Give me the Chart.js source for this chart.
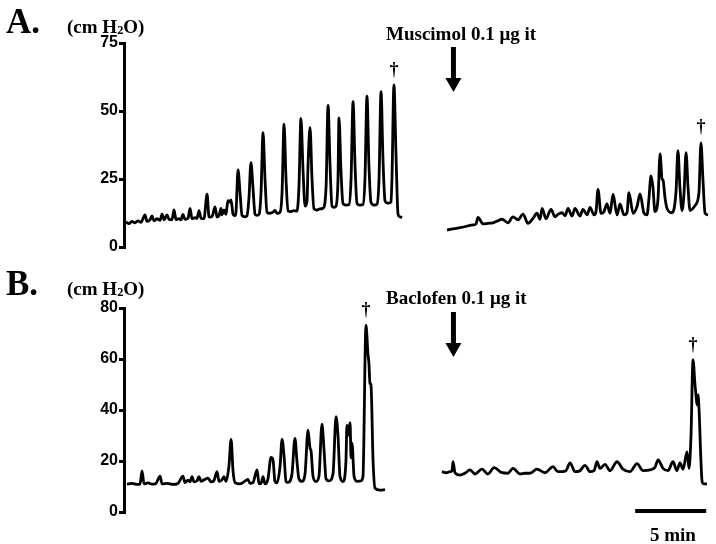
<!DOCTYPE html>
<html>
<head>
<meta charset="utf-8">
<script src="https://cdn.jsdelivr.net/npm/chart.js@4.4.1/dist/chart.umd.min.js"></script>
<style>
  body { margin: 0; background: #fff; }
  #wrap { position: relative; width: 716px; height: 544px; overflow: hidden; }
  canvas { position: absolute; left: 0; }
  .lbl { position: absolute; font-family: "Liberation Serif", "Times New Roman", serif; font-weight: bold; color: #000; line-height: 1; white-space: nowrap; }
  .panel { font-size: 35px; }
  .unit { font-size: 19px; }
  .drug { font-size: 19px; }
  sub { font-size: 0.65em; vertical-align: -0.05em; }
</style>
</head>
<body>
<div id="wrap">
  <canvas id="chartA" width="716" height="262" style="top:0"></canvas>
  <canvas id="chartB" width="716" height="282" style="top:262px"></canvas>
  <div class="lbl panel" style="left:6px;top:4px">A.</div>
  <div class="lbl unit" style="left:67px;top:17px">(cm H<sub>2</sub>O)</div>
  <div class="lbl drug" style="left:386px;top:24px">Muscimol 0.1 μg it</div>
  <div class="lbl panel" style="left:6px;top:266px">B.</div>
  <div class="lbl unit" style="left:67px;top:279px">(cm H<sub>2</sub>O)</div>
  <div class="lbl drug" style="left:386px;top:288px">Baclofen 0.1 μg it</div>
  <div class="lbl drug" style="left:650px;top:525px">5 min</div>
</div>
<script>
// time in minutes, pressure in cm H2O
// A: before muscimol
var timeA1 = [0.14, 0.35, 0.56, 0.77, 0.99, 1.20, 1.48, 1.62, 1.83, 1.97, 2.11, 2.32, 2.54, 2.68, 2.82, 3.03, 3.17, 3.38, 3.52, 3.66,
  3.87, 4.01, 4.15, 4.30, 4.51, 4.65, 4.79, 5.00, 5.14, 5.28, 5.42, 5.63, 5.85, 5.99, 6.20, 6.41, 6.55, 6.69, 6.83, 6.90,
  7.04, 7.18, 7.32, 7.46, 7.54, 7.68, 7.82, 7.89, 8.03, 8.17, 8.31, 8.52, 8.66, 8.80, 8.94, 9.08, 9.23, 9.37, 9.51, 9.65,
  9.79, 9.93, 10.07, 10.28, 10.49, 10.63, 10.77, 10.99, 11.13, 11.27, 11.41, 11.55, 11.76, 11.97, 12.18, 12.32, 12.46, 12.61, 12.75, 12.89,
  12.96, 13.10, 13.24, 13.38, 13.59, 13.80, 14.01, 14.23, 14.37, 14.51, 14.65, 14.79, 14.93, 15.07, 15.14, 15.28, 15.42, 15.63, 15.85, 15.99,
  16.13, 16.27, 16.41, 16.62, 16.83, 16.97, 17.11, 17.25, 17.39, 17.61, 17.82, 17.96, 18.10, 18.24, 18.38, 18.59, 18.80, 18.87, 19.01, 19.15,
  19.30, 19.44, 19.58];
var presA1 = [9.2, 8.6, 9.4, 8.9, 9.6, 9.1, 11.8, 9.4, 10.0, 11.4, 9.6, 10.4, 9.8, 12.1, 10.0, 11.8, 10.2, 10.0, 13.6, 10.1,
  10.4, 10.0, 12.0, 10.2, 10.6, 14.2, 10.4, 10.8, 10.5, 13.4, 10.6, 10.4, 19.4, 11.0, 11.2, 14.7, 11.0, 11.5, 14.2, 11.8,
  13.6, 12.0, 17.0, 16.5, 17.3, 12.0, 11.5, 13.0, 28.3, 20.0, 11.6, 11.1, 11.5, 18.0, 31.0, 22.0, 12.0, 11.6, 12.0, 20.0,
  42.0, 25.0, 12.8, 12.4, 12.8, 13.5, 12.4, 12.8, 20.0, 45.2, 25.0, 13.2, 13.0, 13.4, 13.2, 22.0, 47.3, 28.0, 15.0, 17.0,
  30.0, 44.0, 25.0, 14.0, 13.6, 14.0, 14.2, 22.0, 52.1, 30.0, 15.0, 14.6, 15.0, 25.0, 47.5, 28.0, 16.0, 15.4, 15.6, 25.0,
  53.4, 30.0, 16.0, 15.4, 15.6, 25.0, 55.5, 30.0, 16.5, 15.4, 15.8, 25.0, 57.1, 32.0, 17.0, 16.1, 16.5, 25.0, 59.6, 35.0,
  12.0, 11.1, 10.8];
// A: after muscimol
var timeA2 = [22.75, 23.66, 24.58, 24.79, 24.93, 25.28, 25.63, 25.99, 26.27, 26.62, 27.04, 27.39, 27.75, 28.10, 28.45, 28.80, 29.08, 29.30, 29.44, 29.72,
  30.07, 30.35, 30.56, 30.85, 31.06, 31.27, 31.55, 31.76, 32.11, 32.32, 32.61, 32.82, 33.10, 33.24, 33.38, 33.59, 33.80, 34.01, 34.23, 34.44,
  34.72, 34.93, 35.21, 35.42, 35.56, 35.85, 36.13, 36.34, 36.62, 36.83, 36.97, 37.11, 37.25, 37.39, 37.61, 37.75, 37.89, 37.96, 38.10, 38.24,
  38.59, 38.87, 39.01, 39.15, 39.30, 39.44, 39.58, 39.72, 39.86, 40.21, 40.49, 40.63, 40.77, 40.92, 41.13];
var presA2 = [6.25, 7.1, 8.1, 8.5, 10.9, 8.5, 8.7, 8.9, 9.5, 10.2, 8.9, 11.1, 10.0, 12.1, 8.7, 10.5, 12.4, 10.2, 14.2, 10.4,
  13.8, 11.1, 12.0, 12.6, 11.5, 14.2, 11.4, 14.2, 11.4, 13.8, 11.8, 14.6, 11.8, 13.0, 21.2, 12.4, 13.0, 15.8, 12.4, 19.4,
  11.8, 15.8, 11.8, 12.5, 20.0, 12.4, 14.9, 19.5, 12.4, 11.8, 18.0, 26.1, 22.0, 13.0, 18.0, 34.2, 25.0, 24.6, 18.0, 14.2,
  12.6, 20.0, 35.4, 22.0, 13.4, 20.0, 34.7, 22.0, 13.4, 15.2, 20.0, 38.3, 25.0, 12.4, 11.8];
// B: before baclofen
var timeB1 = [0.21, 0.56, 0.92, 1.13, 1.27, 1.41, 1.69, 1.97, 2.25, 2.54, 2.68, 3.03, 3.45, 3.80, 4.15, 4.30, 4.51, 4.65, 4.79, 4.93,
  5.14, 5.28, 5.42, 5.63, 5.92, 6.13, 6.34, 6.55, 6.69, 6.90, 7.04, 7.18, 7.39, 7.54, 7.68, 7.82, 8.17, 8.45, 8.73, 8.87,
  9.08, 9.37, 9.51, 9.65, 9.79, 9.93, 10.14, 10.35, 10.49, 10.63, 10.77, 10.99, 11.13, 11.27, 11.41, 11.55, 11.83, 12.04, 12.18, 12.32,
  12.54, 12.75, 12.96, 13.10, 13.17, 13.31, 13.52, 13.73, 13.94, 14.08, 14.23, 14.44, 14.72, 14.93, 15.07, 15.21, 15.42, 15.63, 15.70, 15.77,
  15.92, 15.99, 16.06, 16.20, 16.41, 16.69, 16.83, 17.04, 17.18, 17.25, 17.32, 17.39, 17.54, 17.68, 18.03, 18.38];
var presB1 = [10.9, 11.2, 10.8, 11.0, 16.1, 11.0, 11.4, 10.9, 11.2, 14.1, 11.0, 11.2, 10.8, 11.2, 14.1, 11.5, 12.5, 11.8, 13.9, 11.8,
  12.2, 13.9, 12.0, 12.6, 13.3, 11.8, 12.4, 15.8, 12.0, 12.6, 13.9, 12.0, 18.0, 28.5, 16.0, 11.5, 11.0, 11.8, 12.8, 11.2,
  11.5, 16.5, 11.0, 11.2, 13.9, 11.0, 13.0, 21.4, 20.5, 12.0, 11.4, 18.0, 28.5, 22.0, 12.0, 11.6, 15.0, 28.9, 20.0, 13.0,
  12.0, 15.0, 32.1, 25.0, 24.0, 14.0, 11.9, 14.0, 34.5, 25.0, 13.0, 12.2, 15.0, 37.4, 30.0, 14.0, 11.9, 20.0, 34.1, 30.0,
  35.0, 21.2, 27.0, 14.0, 12.0, 12.2, 14.0, 73.3, 62.0, 58.3, 50.4, 50.0, 20.0, 9.3, 8.6, 8.8];
// B: after baclofen
var timeB2 = [22.39, 22.68, 22.96, 23.10, 23.17, 23.31, 23.66, 24.01, 24.37, 24.72, 25.21, 25.63, 26.06, 26.62, 27.04, 27.39, 27.89, 28.24, 28.59, 29.08,
  29.65, 30.21, 30.56, 30.85, 31.13, 31.41, 31.76, 32.11, 32.46, 32.82, 33.10, 33.31, 33.52, 33.87, 34.23, 34.72, 35.14, 35.63, 36.13, 36.55,
  37.04, 37.39, 37.61, 37.96, 38.31, 38.66, 38.94, 39.15, 39.37, 39.65, 39.79, 39.93, 40.07, 40.21, 40.28, 40.35, 40.42, 40.49, 40.63, 40.70,
  40.77, 41.06];
var presB2 = [15.8, 15.4, 15.8, 16.2, 19.7, 15.4, 14.5, 15.2, 16.5, 14.9, 16.8, 14.9, 17.4, 15.4, 15.2, 17.1, 14.9, 15.2, 15.2, 16.8,
  15.4, 17.8, 15.8, 15.8, 16.2, 19.3, 15.8, 16.2, 18.3, 15.8, 16.2, 19.7, 17.1, 18.7, 16.2, 19.7, 16.8, 15.8, 19.0, 16.2,
  16.5, 17.5, 20.4, 17.1, 16.2, 19.7, 16.2, 19.3, 16.8, 23.6, 17.1, 30.0, 59.6, 50.0, 45.9, 42.0, 45.9, 41.0, 20.0, 12.5,
  11.2, 11.0];

var injectionTime = 23.2;      // drug given (arrow)
var scaleBarMin = [36.0, 41.0]; // 5 min bar
var ticksA = [0, 25, 50, 75];
var ticksB = [0, 20, 40, 60, 80];

function pts(t, p) {
  return t.map(function (v, i) { return { x: v, y: p[i] }; });
}

var marksPlugin = {
  id: 'marks',
  afterDatasetsDraw: function (chart, args, opts) {
    var ctx = chart.ctx, area = chart.chartArea, x = chart.scales.x, y = chart.scales.y;
    ctx.save();
    ctx.fillStyle = '#000';
    ctx.strokeStyle = '#000';
    // arrow for the injection
    var ax = x.getPixelForValue(opts.injection);
    var top = area.top + 4, tip = area.top + 49;
    ctx.fillRect(ax - 2.5, top, 5, tip - top - 12);
    ctx.beginPath();
    ctx.moveTo(ax - 8, tip - 14);
    ctx.lineTo(ax + 8, tip - 14);
    ctx.lineTo(ax, tip);
    ctx.closePath();
    ctx.fill();
    // dagger over the last (largest) contraction of each trace
    ctx.font = 'bold 18px "Liberation Serif", serif';
    ctx.textAlign = 'center';
    ctx.textBaseline = 'middle';
    chart.data.datasets.forEach(function (ds) {
      var best = ds.data[0];
      ds.data.forEach(function (p) { if (p.y > best.y) best = p; });
      ctx.fillText('\u2020', x.getPixelForValue(best.x), y.getPixelForValue(best.y) - 15);
    });
    if (opts.scaleBar) {
      var y0 = y.getPixelForValue(0) - 1;
      ctx.lineWidth = 4;
      ctx.beginPath();
      ctx.moveTo(x.getPixelForValue(opts.scaleBar[0]), y0);
      ctx.lineTo(x.getPixelForValue(opts.scaleBar[1]), y0);
      ctx.stroke();
    }
    ctx.restore();
  }
};

function traceSet(t, p) {
  return {
    data: pts(t, p),
    borderColor: '#000',
    borderWidth: 2.8,
    pointRadius: 0,
    cubicInterpolationMode: 'monotone',
    borderJoinStyle: 'round',
    fill: false
  };
}

function makeChart(id, sets, ticks, pad, bar) {
  return new Chart(document.getElementById(id), {
    type: 'line',
    data: { datasets: sets },
    plugins: [marksPlugin],
    options: {
      responsive: false,
      animation: false,
      layout: { padding: pad },
      plugins: {
        legend: { display: false },
        tooltip: { enabled: false },
        marks: { injection: injectionTime, scaleBar: bar }
      },
      scales: {
        x: { type: 'linear', display: false, min: 0, max: 41.69 },
        y: {
          min: ticks[0],
          max: ticks[ticks.length - 1],
          afterFit: function (s) { s.width = 124; },
          afterBuildTicks: function (s) { s.ticks = ticks.map(function (v) { return { value: v }; }); },
          border: { display: true, color: '#000', width: 3 },
          grid: { drawOnChartArea: false, drawTicks: true, tickLength: 5, color: '#000', lineWidth: 3 },
          ticks: {
            color: '#000',
            padding: 1,
            font: { family: '"Liberation Sans", Arial, sans-serif', weight: 'bold', size: 16 }
          }
        }
      }
    }
  });
}

makeChart('chartA', [traceSet(timeA1, presA1), traceSet(timeA2, presA2)], ticksA,
  { top: 43, bottom: 15, left: 0, right: 0 }, null);
makeChart('chartB', [traceSet(timeB1, presB1), traceSet(timeB2, presB2)], ticksB,
  { top: 46, bottom: 32, left: 0, right: 0 }, scaleBarMin);
</script>
</body>
</html>
